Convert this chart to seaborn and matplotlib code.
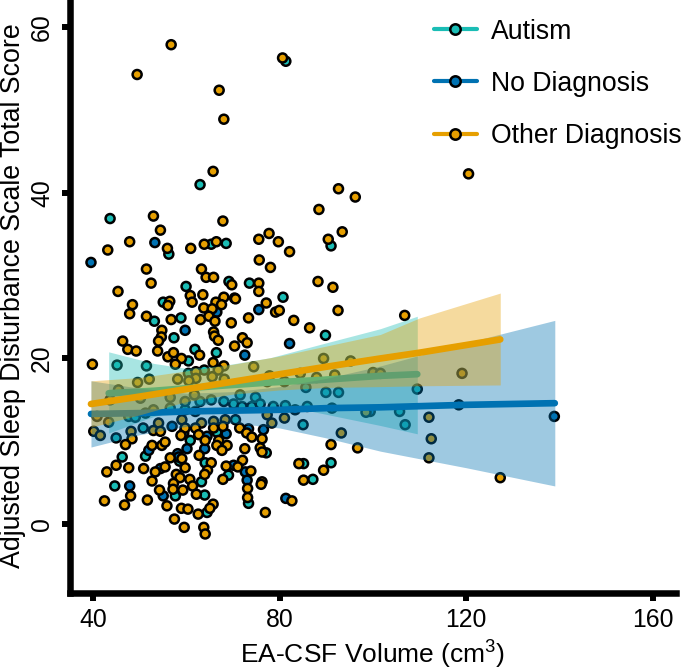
import pandas as pd
import seaborn as sns
import matplotlib
matplotlib.use('Agg')
import matplotlib.pyplot as plt
from matplotlib.lines import Line2D

# Points as (EA-CSF volume, sleep score)
autism_pts = [(81.3,55.9),(62.9,41.0),(43.6,36.9),(91.0,33.6),(56.2,32.6),(65.3,33.8),(68.5,33.9),
              (59.9,28.7),(69.1,29.3),(73.5,29.1),(53.1,24.5),(55.0,26.8),(58.8,24.9),(80.7,27.4),
              (89.8,22.8),(57.3,22.5),(60.4,19.7),(61.8,21.1),(66.4,20.7),(45.1,19.2),(51.4,19.1),
              (63.8,18.6),(60.4,18.2),(71.5,15.6),(85.6,16.5),(89.9,15.9),(92.6,15.9),(74.8,15.3),
              (62.9,14.8),(65.3,15.0),(68.0,14.8),(70.1,14.5),(71.9,14.2),(74.0,14.2),(75.8,14.5),
              (78.6,14.2),(81.2,14.3),(85.9,14.2),(91.2,14.0),(59.7,13.8),(56.5,14.0),(47.6,13.0),
              (49.0,12.9),(51.2,13.4),(61.9,13.6),(70.5,12.6),(85.0,12.0),(50.7,11.6),(44.9,10.4),
              (66.5,11.1),(60.8,10.1),(77.1,8.6),(46.2,8.1),(51.2,8.2),(58.5,7.6),(64.0,7.4),
              (85.1,7.3),(91.0,7.4),(69.0,5.9),(87.1,5.4),(63.2,5.1),(44.6,4.6),(63.9,3.5),
              (57.6,3.4),(73.3,2.5),(64.4,1.4),(109.5,16.3),(106.9,12.0),(105.7,13.6)]
none_pts = [(53.2,34.0),(39.5,31.6),(66.5,25.6),(75.5,25.9),(82.1,21.8),(59.7,23.4),(72.5,20.4),
            (83.3,13.8),(56.9,11.8),(73.3,11.5),(76.5,11.4),(59.4,11.0),(64.4,10.6),(68.5,10.9),
            (51.9,8.9),(60.1,9.1),(63.9,9.1),(58.1,8.5),(58.3,8.1),(70.1,7.1),(54.4,6.7),
            (72.6,6.3),(73.0,5.3),(47.8,4.6),(55.0,3.4),(81.3,3.1),(118.4,14.4),(138.9,13.0),(99.4,13.6)]
other_pts = [(56.7,57.9),(49.4,54.3),(80.6,56.3),(67.0,52.4),(68.0,48.9),(65.7,42.6),(92.6,40.5),
             (96.2,39.5),(88.4,38.0),(52.9,37.2),(67.8,36.6),(54.4,35.5),(93.4,35.3),(77.7,35.1),
             (75.5,34.4),(79.7,34.1),(90.4,34.4),(47.8,34.1),(43.1,33.1),(55.9,33.3),(60.9,33.3),
             (63.8,33.8),(66.4,34.1),(82.1,32.9),(51.4,30.8),(63.2,30.8),(75.6,31.9),(78.0,31.0),
             (64.2,29.8),(65.8,29.8),(52.4,29.1),(69.7,28.9),(75.5,29.1),(75.5,28.1),(88.2,29.3),
             (91.4,28.6),(45.3,28.1),(48.4,26.5),(47.8,25.4),(51.4,25.1),(56.4,26.9),(56.0,26.4),
             (56.7,24.7),(60.8,27.6),(61.2,26.8),(63.5,27.7),(63.0,24.7),(63.7,26.1),(66.3,26.8),
             (65.5,26.0),(68.0,27.4),(67.5,26.5),(64.8,25.1),(66.1,24.5),(70.3,27.3),(70.5,27.2),
             (69.6,24.3),(73.3,24.9),(77.1,26.7),(79.1,25.6),(79.9,25.8),(83.0,24.6),(86.4,23.7),
             (92.5,25.8),(54.7,23.4),(54.6,22.6),(54.0,22.1),(46.3,22.1),(47.4,21.1),(49.2,20.9),
             (53.8,20.9),(56.0,20.2),(57.2,20.7),(58.9,20.0),(62.8,20.4),(65.8,23.2),(66.0,22.7),
             (66.8,22.2),(70.3,21.5),(72.0,22.5),(73.0,21.9),(65.7,19.5),(39.8,19.3),(57.6,19.3),
             (68.0,19.1),(62.0,18.4),(74.4,19.0),(66.8,18.6),(52.0,17.5),(49.5,17.1),(58.1,17.5),
             (62.0,17.6),(65.5,17.8),(68.1,17.5),(89.4,20.0),(95.2,19.7),(77.8,17.9),(87.9,17.7),
             (91.8,18.0),(100.0,18.3),(101.6,18.2),(84.4,18.2),(81.0,17.2),(77.3,17.2),(60.5,17.3),
             (45.4,16.2),(43.6,15.0),(50.1,15.2),(56.5,15.3),(59.7,14.8),(61.7,15.6),(98.5,13.5),
             (52.9,13.8),(40.8,13.0),(59.0,12.6),(65.8,12.4),(68.3,12.6),(77.3,13.2),(81.0,12.8),
             (78.3,12.2),(93.2,11.0),(54.0,12.2),(63.2,12.2),(67.8,11.8),(43.3,12.3),(59.7,11.6),
             (61.9,11.6),(65.8,11.6),(71.4,11.6),(40.1,11.2),(41.5,10.7),(48.1,11.2),(48.3,10.3),
             (52.9,11.3),(54.4,11.2),(72.9,11.0),(74.0,10.5),(76.2,10.3),(62.6,10.8),(58.8,10.7),
             (66.9,10.1),(64.0,10.1),(46.9,9.6),(54.7,9.5),(55.4,9.9),(52.6,9.5),(68.7,9.5),
             (66.5,9.5),(91.0,9.6),(96.7,9.2),(75.8,9.2),(67.6,8.9),(72.5,9.1),(76.2,8.7),
             (56.5,8.0),(62.7,8.3),(59.0,7.9),(72.0,7.7),(65.3,7.4),(84.1,7.3),(44.9,7.1),
             (68.5,7.0),(71.0,6.9),(47.6,6.8),(50.8,6.7),(55.4,6.9),(59.7,6.8),(42.9,6.3),
             (53.3,6.3),(64.5,6.5),(63.9,6.0),(73.8,6.4),(89.4,6.5),(57.8,6.0),(58.6,5.6),
             (60.7,5.4),(67.8,5.4),(52.6,5.2),(85.1,5.3),(57.2,4.9),(61.3,4.6),(76.2,5.1),
             (76.0,4.8),(54.2,4.1),(73.1,4.3),(57.1,4.2),(59.2,4.1),(62.1,3.6),(48.0,3.4),
             (73.1,3.2),(82.6,2.8),(42.4,2.8),(46.7,2.3),(51.6,2.9),(55.8,2.2),(58.9,1.9),
             (60.3,1.8),(62.5,1.2),(65.7,2.4),(65.0,1.9),(76.9,1.4),(57.4,0.6),(59.5,-0.4),
             (63.7,-0.4),(64.0,-1.2),(106.8,25.2),(119.1,18.2),(112.0,12.9),(112.5,10.3),
             (112.0,8.0),(127.3,5.6),(120.5,42.3)]

# Fit lines and ribbons, read at a few x positions
autism_band_x = [43.3, 53, 60, 67.3, 78, 88.7, 101.6, 109.5]
autism_fit = [15.8, 16.1, 16.4, 16.7, 17.1, 17.4, 17.9, 18.1]
autism_low = [11.0, 13.0, 14.0, 14.8, 14.6, 13.4, 11.9, 10.9]
autism_high = [20.8, 19.4, 18.8, 19.1, 20.1, 21.7, 23.6, 25.1]

none_band_x = [39.5, 50, 60, 70, 80, 90, 101.6, 120, 139]
none_fit = [13.3, 13.4, 13.6, 13.7, 13.8, 14.0, 14.1, 14.4, 14.6]
none_low = [9.3, 10.8, 11.8, 12.2, 11.6, 10.4, 8.8, 6.8, 4.6]
none_high = [17.3, 16.4, 15.8, 16.0, 16.6, 17.6, 19.1, 21.9, 24.6]

other_band_x = [39.5, 50, 60, 70, 80, 90, 101.6, 110, 127.3]
other_fit = [14.5, 15.4, 16.3, 17.2, 18.1, 19.0, 20.0, 20.7, 22.3]
other_low = [11.7, 13.2, 14.8, 15.7, 16.2, 16.5, 16.6, 16.7, 16.8]
other_high = [17.3, 17.7, 18.5, 19.3, 20.3, 21.5, 22.9, 24.9, 27.9]

groups = ['Autism', 'No Diagnosis', 'Other Diagnosis']
colors = {'Autism': '#1ABDB5', 'No Diagnosis': '#0072B2', 'Other Diagnosis': '#E69F00'}

sns.set_style('white', {'axes.edgecolor': 'black'})
plt.rcParams['font.family'] = ['Liberation Sans', 'DejaVu Sans']
plt.rcParams['mathtext.default'] = 'regular'

rows = []
for name, pts in zip(groups, [autism_pts, none_pts, other_pts]):
    for x, y in pts:
        rows.append({'volume': x, 'score': y, 'group': name})
df = pd.DataFrame(rows)

fig = plt.figure(figsize=(6.85, 6.71), dpi=100)
ax = fig.add_axes([70 / 685, (671 - 593) / 671, (676 - 70) / 685, 593 / 671])

# points go underneath, the ribbons wash over them
sns.scatterplot(data=df, x='volume', y='score', hue='group', palette=colors, s=42,
                edgecolor='black', linewidth=1.8, legend=False, zorder=2, ax=ax)

bands = [('Autism', autism_band_x, autism_fit, autism_low, autism_high),
         ('No Diagnosis', none_band_x, none_fit, none_low, none_high),
         ('Other Diagnosis', other_band_x, other_fit, other_low, other_high)]
for i, (name, bx, fit, low, high) in enumerate(bands):
    sns.lineplot(x=bx, y=fit, color=colors[name], linewidth=4.8, errorbar=None,
                 zorder=3 + i, ax=ax)
    ax.fill_between(bx, low, high, color=colors[name], alpha=0.38, linewidth=0, zorder=3 + i)

ax.set_xlim(35.0, 165.0)
ax.set_ylim(-8.33, 63.3)
ax.set_xticks([40, 80, 120, 160])
ax.set_yticks([0, 20, 40, 60])
ax.tick_params(axis='both', length=5.8, width=4.3, color='black', labelsize=17.8,
               left=True, bottom=True, labelcolor='black')
ax.tick_params(axis='x', pad=5.2)
ax.tick_params(axis='y', pad=5.7)
plt.setp(ax.get_yticklabels(), rotation=90, va='center')
ax.set_xlabel('EA-CSF Volume (cm$^3$)', fontsize=19.0, labelpad=4.5, color='black')
ax.set_ylabel('')
fig.text(13 / 685, 1 - 296 / 671, 'Adjusted Sleep Disturbance Scale Total Score', rotation=90,
         fontsize=19.3, ha='center', va='center', color='black')

sns.despine(ax=ax)
ax.spines['left'].set_linewidth(4.7)
ax.spines['bottom'].set_linewidth(4.7)
ax.patch.set_alpha(0)

handles = [Line2D([], [], color=colors[g], linewidth=3, marker='o', markersize=7.5,
                  markerfacecolor=colors[g], markeredgecolor='black', markeredgewidth=1.8)
           for g in groups]
ax.legend(handles, groups, loc='upper left', bbox_to_anchor=(0.570, 1.0), frameon=False,
          fontsize=19.2, handlelength=1.6, handletextpad=0.53, labelspacing=0.98,
          borderaxespad=0.3, labelcolor='black').set_zorder(10)

fig.savefig('out.png', dpi=100)
